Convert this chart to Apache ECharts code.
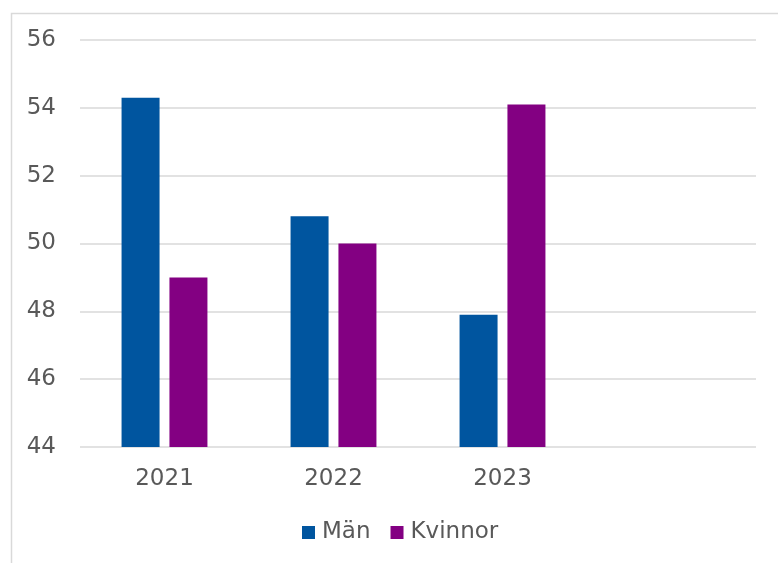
<!DOCTYPE html>
<html><head><meta charset="utf-8">
<script src="https://cdn.jsdelivr.net/npm/echarts@6/dist/echarts.min.js"></script>
<style>html,body{margin:0;padding:0;background:#fff}#c{width:778px;height:563px}</style>
</head><body><div id="c"></div>
<script>
const categories = ['2021', '2022', '2023', ''];
const manValues = [54.3, 50.8, 47.9, '-'];
const kvinnorValues = [49.0, 50.0, 54.1, '-'];
const yTicks = { min: 44, max: 56, interval: 2 };

const chart = echarts.init(document.getElementById('c'));
const font = 'Verdana, "DejaVu Sans", sans-serif';
chart.setOption({
  animation: false,
  backgroundColor: '#fff',
  graphic: [{
    type: 'rect', left: 9, top: 11, silent: true,
    shape: { width: 800, height: 600 },
    style: { fill: 'none', stroke: '#d9d9d9', lineWidth: 1.5 }
  }],
  grid: { left: 80, right: 22, top: 40, bottom: 563 - 447, containLabel: false },
  legend: {
    top: 516, left: 297,
    itemWidth: 13, itemHeight: 13, itemGap: 20,
    icon: 'rect',
    textStyle: { fontFamily: font, fontSize: 23, color: '#595959', padding: [0, 0, 0, 2] },
    data: ['Män', 'Kvinnor']
  },
  xAxis: {
    type: 'category', data: categories,
    axisLine: { show: false }, axisTick: { show: false },
    axisLabel: { fontFamily: font, fontSize: 23, color: '#595959', margin: 21 }
  },
  yAxis: {
    type: 'value', min: yTicks.min, max: yTicks.max, interval: yTicks.interval,
    axisLine: { show: false }, axisTick: { show: false },
    axisLabel: { fontFamily: font, fontSize: 23, color: '#595959', margin: 24 },
    splitLine: { lineStyle: { color: '#d9d9d9', width: 1.5 } }
  },
  series: [
    { name: 'Män', type: 'bar', data: manValues, barWidth: 38, barGap: '26%',
      itemStyle: { color: '#00559F' } },
    { name: 'Kvinnor', type: 'bar', data: kvinnorValues, barWidth: 38,
      itemStyle: { color: '#830082' } }
  ]
});
</script></body></html>
